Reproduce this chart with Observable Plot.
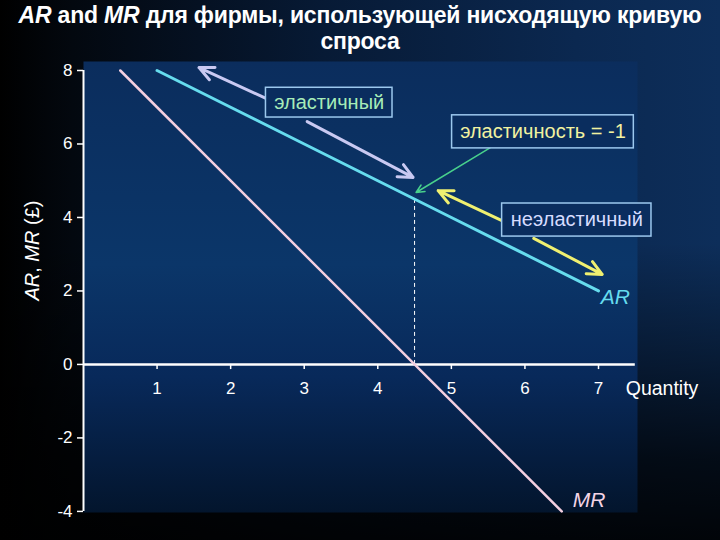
<!DOCTYPE html>
<html>
<head>
<meta charset="utf-8">
<script src="https://cdn.jsdelivr.net/npm/d3@7"></script>
<script src="https://cdn.jsdelivr.net/npm/@observablehq/plot@0.6"></script>
<style>
  html, body { margin: 0; padding: 0; }
  body {
    width: 720px; height: 540px; overflow: hidden;
    font-family: "Liberation Sans", Arial, sans-serif;
    background:
      linear-gradient(to bottom, rgba(0,0,0,0) 0%, rgba(0,0,0,0) 45%, rgba(0,0,0,0.75) 85%, rgba(0,0,0,0.9) 100%),
      linear-gradient(to right, #000 0%, #03080f 10%, #071a35 45%, #0b2850 80%, #0d2e5a 100%);
  }
  #title {
    height: 56px; box-sizing: border-box; padding-top: 2px;
    color: #fff; font-weight: bold; font-size: 23px; line-height: 26px;
    text-align: center; letter-spacing: -0.2px; white-space: nowrap;
  }
  #chart svg { display: block; }
</style>
</head>
<body>
<div id="title"><i>AR</i> and <i>MR</i> для фирмы, использующей нисходящую кривую<br>спроса</div>
<div id="chart"></div>
<script>
// ---- data ----
const xTicks = [1, 2, 3, 4, 5, 6, 7];
const yTicks = [-4, -2, 0, 2, 4, 6, 8];
const xDomain = [0, 7.53];
const yDomain = [-4.03, 8.245];

const arQ = [1, 2, 3, 4, 5, 6, 7];
const arP = [8, 7, 6, 5, 4, 3, 2];
const mrQ = [0.5, 1, 2, 3, 4, 4.5, 5, 6, 6.5];
const mrP = [8, 7, 5, 3, 1, 0, -1, -3, -4];

const unitQ = 4.5;
const unitP = 4.5;

const elasticArrowQ1 = [2.48, 3.04];
const elasticArrowP1 = [7.24, 6.61];
const elasticArrowQ2 = [1.57, 4.48];
const elasticArrowP2 = [8.08, 5.09];

const unitArrowQ1 = [5.53];
const unitArrowP1 = [5.90];
const unitArrowQ2 = [4.52];
const unitArrowP2 = [4.68];

const inelasticArrowQ1 = [5.68, 6.12];
const inelasticArrowP1 = [3.92, 3.43];
const inelasticArrowQ2 = [4.82, 7.05];
const inelasticArrowP2 = [4.73, 2.45];

const boxLabels = ["эластичный", "эластичность = -1", "неэластичный"];
const boxQ1 = [2.48, 5.01, 5.69];
const boxQ2 = [4.20, 7.48, 7.72];
const boxP1 = [7.53, 6.78, 4.38];
const boxP2 = [6.72, 5.88, 3.48];

const curveLabels = ["AR", "MR"];
const curveLabelQ = [7.03, 6.65];
const curveLabelP = [1.82, -3.70];
const xTitle = "Quantity";
const xTitleQ = 7.37;
const xTitleP = -0.65;
const yTitle = "AR, MR (£)";
const yTitleQ = -0.69;
const yTitleP = 3.1;

// ---- tables built from arrays ----
const ar = arQ.map((q, i) => ({q, p: arP[i]}));
const mr = mrQ.map((q, i) => ({q, p: mrP[i]}));
const mk = (a, b, c, d) => a.map((v, i) => ({x1: v, y1: b[i], x2: c[i], y2: d[i]}));
const elasticArrows = mk(elasticArrowQ1, elasticArrowP1, elasticArrowQ2, elasticArrowP2);
const unitArrows = mk(unitArrowQ1, unitArrowP1, unitArrowQ2, unitArrowP2);
const inelasticArrows = mk(inelasticArrowQ1, inelasticArrowP1, inelasticArrowQ2, inelasticArrowP2);
const boxColors = ["#a6ecb8", "#f2f2a0", "#d6dcff"];
const boxes = boxLabels.map((t, i) => ({t, c: boxColors[i], x1: boxQ1[i], x2: boxQ2[i], y1: boxP1[i], y2: boxP2[i],
  cx: (boxQ1[i] + boxQ2[i]) / 2, cy: (boxP1[i] + boxP2[i]) / 2}));
const curveColors = ["#66dcee", "#f4d4e6"];
const curveLabelData = curveLabels.map((t, i) => ({t, c: curveColors[i], q: curveLabelQ[i], p: curveLabelP[i]}));

const font = "'Liberation Sans', Arial, sans-serif";

const plot = Plot.plot({
  width: 720,
  height: 484,
  marginLeft: 83,
  marginRight: 83,
  marginTop: 5,
  marginBottom: 28,
  x: {domain: xDomain, axis: null},
  y: {domain: yDomain, axis: null},
  style: {background: "transparent", color: "white", fontFamily: font, overflow: "visible"},
  marks: [
    Plot.frame({fill: "url(#panelGrad)", stroke: "none"}),
    // axes
    Plot.axisY({ticks: yTicks, tickFormat: d => String(d), tickSize: 6, tickPadding: 5, fontSize: 17,
      stroke: "white", fill: "white", strokeWidth: 1.5}),
    Plot.ruleX(xTicks, {x: d => d, y1: 0, y2: -0.14, stroke: "white", strokeWidth: 1.5}),
    Plot.text(xTicks, {x: d => d, y: 0, dy: 24, text: d => String(d), fill: "white", fontSize: 17}),
    Plot.ruleY([0], {x1: xDomain[0], x2: 7.5, stroke: "white", strokeWidth: 2.5}),
    Plot.ruleX([0], {y1: yTicks[0], y2: yTicks[yTicks.length - 1], stroke: "white", strokeWidth: 2}),
    // dashed guide
    Plot.ruleX([unitQ], {y1: 0, y2: unitP, stroke: "white", strokeWidth: 1, strokeDasharray: "4,3"}),
    // curves
    Plot.line(mr, {x: "q", y: "p", stroke: "#f4cfe0", strokeWidth: 2.5}),
    Plot.line(ar, {x: "q", y: "p", stroke: "#66dcee", strokeWidth: 3}),
    // arrows
    Plot.arrow(elasticArrows, {x1: "x1", y1: "y1", x2: "x2", y2: "y2", stroke: "#c9c9f2", strokeWidth: 3, headLength: 8, headAngle: 50}),
    Plot.arrow(unitArrows, {x1: "x1", y1: "y1", x2: "x2", y2: "y2", stroke: "#48d08c", strokeWidth: 1.5, headLength: 9, headAngle: 50}),
    Plot.arrow(inelasticArrows, {x1: "x1", y1: "y1", x2: "x2", y2: "y2", stroke: "#f0f070", strokeWidth: 3, headLength: 8, headAngle: 50}),
    // boxes
    Plot.rect(boxes, {x1: "x1", x2: "x2", y1: "y1", y2: "y2", fill: "#0a2d5e", stroke: "#9cc8ee", strokeWidth: 1.5}),
    Plot.text(boxes, {x: "cx", y: "cy", text: "t", fill: d => d.c, fontSize: 20}),
    // labels
    Plot.text(curveLabelData, {x: "q", y: "p", text: "t", textAnchor: "start", fontSize: 21, fontStyle: "italic", fill: d => d.c}),
    Plot.text([xTitle], {x: xTitleQ, y: xTitleP, text: d => d, textAnchor: "start", fontSize: 19.5, fill: "white"}),
    Plot.text([yTitle], {x: yTitleQ, y: yTitleP, rotate: -90, text: d => d, fontSize: 20, fill: "white"})
  ]
});

// gradient definition for the panel
const svg = d3.select(plot);
const defs = svg.insert("defs", ":first-child");
const g = defs.append("linearGradient").attr("id", "panelGrad").attr("x1", 0).attr("y1", 0).attr("x2", 0).attr("y2", 1);
[["0%", "#0b2d5d"], ["45%", "#0b3669"], ["70%", "#08295a"], ["100%", "#03152d"]].forEach(([o, c]) =>
  g.append("stop").attr("offset", o).attr("stop-color", c));

// italic AR / MR in the y title
svg.selectAll("text").filter(function () { return this.textContent === yTitle; }).each(function () {
  const t = d3.select(this);
  t.text(null);
  t.append("tspan").attr("font-style", "italic").text("AR");
  t.append("tspan").text(", ");
  t.append("tspan").attr("font-style", "italic").text("MR");
  t.append("tspan").text(" (£)");
});

document.getElementById("chart").append(plot);
</script>
</body>
</html>
